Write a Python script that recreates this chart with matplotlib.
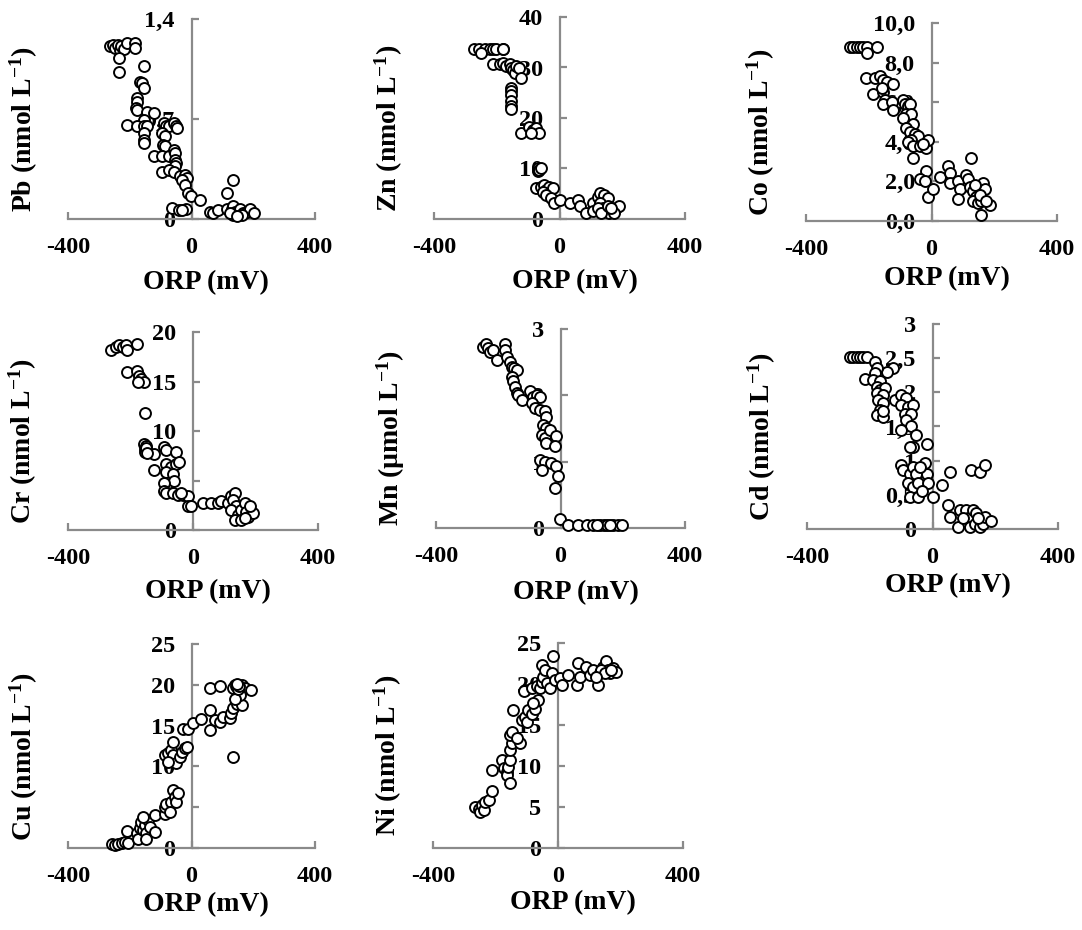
import matplotlib.pyplot as plt

# ORP (mV) and metal concentrations
pb_orp = [-265, -254, -247, -239, -233, -229, -220, -209, -182, -182,
          -236, -236, -153, -168, -161, -153, -177, -177, -179, -175,
          -144, -123, -155, -209, -177, -153, -144, -155, -153, -153,
          -88, -82, -74, -58, -50, -47, -96, -85, -91, -85,
          -123, -94, -74, -58, -53, -53, -50, -53, -94, -74,
          -58, -37, -20, -15, -31, -20, -10, -2, 28, -64,
          -42, -17, -31, 60, 71, 87, 114, 130, 136, 114,
          136, 141, 152, 157, 168, 179, 190, 201, 136, 125, 163, 147]
pb_conc = [1.21, 1.22, 1.20, 1.22, 1.18, 1.21, 1.19, 1.23, 1.23, 1.20,
           1.13, 1.03, 1.07, 0.96, 0.95, 0.92, 0.85, 0.82, 0.78, 0.76,
           0.75, 0.74, 0.69, 0.66, 0.65, 0.65, 0.65, 0.60, 0.55, 0.53,
           0.67, 0.65, 0.65, 0.67, 0.65, 0.64, 0.60, 0.58, 0.52, 0.51,
           0.44, 0.44, 0.44, 0.48, 0.46, 0.41, 0.39, 0.37, 0.33, 0.34,
           0.33, 0.30, 0.31, 0.29, 0.27, 0.24, 0.18, 0.16, 0.13, 0.08,
           0.06, 0.07, 0.06, 0.05, 0.04, 0.06, 0.07, 0.07, 0.27, 0.18,
           0.09, 0.05, 0.04, 0.07, 0.04, 0.05, 0.07, 0.04, 0.03, 0.04, 0.03, 0.02]

zn_orp = [-271, -255, -239, -223, -213, -202, -179, -250, -179, -213,
          -191, -181, -170, -159, -154, -149, -143, -138, -128, -122,
          -154, -154, -154, -154, -154, -154, -122, -96, -85, -74, -64, -90,
          -69, -69, -64, -58,
          -74, -58, -48, -42, -32, -21, -53, -42, -27, -16, 0, 32, 58, 64, 85,
          106, 122, 128, 143, 154, 128, 138, 149, 159, 170, 181, 191, 106, 122,
          133, 154, 175, 165]
zn_conc = [33.7, 33.7, 33.7, 33.7, 33.7, 33.7, 33.7, 32.9, 33.6, 30.6,
           30.6, 30.9, 30.3, 30.6, 29.9, 29.6, 28.9, 30.3, 29.9, 27.9,
           26.0, 25.3, 24.6, 23.3, 22.3, 21.7, 17.0, 18.3, 17.7, 18.0, 17.0, 17.0,
           10.0, 9.5, 9.7, 10.0,
           6.1, 6.4, 6.8, 5.8, 6.4, 6.1, 5.4, 4.8, 4.1, 3.1, 3.8, 3.1, 3.8, 2.5, 1.1,
           3.1, 4.4, 5.1, 4.8, 4.1, 3.1, 2.1, 1.5, 1.1, 1.8, 2.1, 2.5, 1.5, 2.1,
           1.1, 2.5, 1.1, 2.1]

co_orp = [-260, -249, -239, -228, -218, -207, -175, -207,
          -210, -180, -164, -154, -143, -122, -186, -154, -159, -149,
          -154, -127, -122, -90, -85, -74, -69, -80, -64, -90,
          -58, -80, -69, -53, -42, -64, -74, -58, -37, -16,
          -11, -27, -58, -16, -37, -21, -11, 5, 27, 53,
          58, 58, 85, 90, 85, 111, 117, 127, 122, 133,
          143, 133, 149, 164, 170, 159, 186, 159, 138, 154, 175]
co_conc = [8.77, 8.77, 8.77, 8.77, 8.77, 8.77, 8.8, 8.5,
           7.2, 7.2, 7.3, 7.1, 7.0, 6.9, 6.4, 6.5, 6.7, 6.1,
           5.9, 6.0, 5.6, 6.1, 5.9, 5.8, 5.9, 5.4, 5.4, 5.2,
           4.9, 4.7, 4.5, 4.4, 4.3, 4.1, 4.0, 3.8, 3.8, 3.7,
           4.1, 3.9, 3.2, 2.5, 2.1, 2.0, 1.2, 1.6, 2.2, 2.8,
           2.4, 1.9, 2.0, 1.6, 1.1, 2.3, 2.1, 3.2, 1.7, 1.5,
           1.2, 1.0, 0.9, 1.9, 1.6, 1.0, 0.8, 0.3, 1.8, 1.3, 1.0]

cr_orp = [-263, -247, -237, -225, -215, -210, -178,
          -212, -178, -172, -167, -156, -176, -154,
          -156, -154, -151, -154, -124, -92, -86, -54,
          -86, -71, -54, -44,
          -124, -86, -65, -60, -92, -92, -86, -65, -49, -33,
          -17, -17, -6, -38,
          31, 58, 79, 90, 111, 122, 133, 127, 139, 122,
          143, 154, 165, 171, 176, 192, 181, 133, 154, 165,
          -150, -152, -148]
cr_conc = [18.2, 18.5, 18.7, 18.5, 18.7, 18.2, 18.8,
           16.0, 16.1, 15.6, 15.3, 15.0, 15.0, 11.8,
           8.7, 8.2, 8.1, 7.9, 7.7, 8.4, 8.1, 7.9,
           6.7, 6.4, 6.7, 6.9,
           6.1, 5.9, 5.7, 4.9, 4.7, 3.9, 3.7, 3.7, 3.5, 3.5,
           3.4, 2.4, 2.4, 3.7,
           2.7, 2.7, 2.7, 2.9, 2.7, 3.4, 3.7, 3.0, 2.4, 2.0,
           1.5, 2.0, 2.7, 1.8, 1.3, 1.7, 2.4, 1.0, 1.0, 1.2,
           8.5, 8.3, 7.8]

mn_orp = [-248, -240, -232, -225, -216, -203, -179, -179, -173, -162,
          -157, -150, -141, -157, -152, -147, -141, -136, -125, -99,
          -88, -77, -66, -93, -82, -66, -50, -45, -56, -45,
          -61, -50, -45, -34, -13, -18, -66, -50, -29, -13,
          -7, -61, -18, -2, 25, 57, 84, 105, 126, 140,
          151, 169, 185, 196, 116, 158]
mn_conc = [2.73, 2.78, 2.71, 2.66, 2.68, 2.53, 2.78, 2.68, 2.58, 2.51,
           2.43, 2.41, 2.38, 2.28, 2.21, 2.13, 2.03, 2.01, 1.93, 2.06,
           1.98, 2.01, 1.98, 1.88, 1.81, 1.78, 1.76, 1.68, 1.56, 1.51,
           1.40, 1.35, 1.28, 1.48, 1.38, 1.23, 1.03, 1.00, 0.98, 0.93,
           0.78, 0.88, 0.60, 0.13, 0.05, 0.05, 0.05, 0.04, 0.04, 0.05,
           0.04, 0.04, 0.05, 0.04, 0.05, 0.05]

cd_orp = [-264, -253, -242, -232, -221, -210, -184, -125, -146, -178,
          -184, -216, -189, -168, -178, -168, -152, -178, -157, -173,
          -157, -168, -178, -157, -157, -120, -99, -83, -99, -78,
          -62, -88, -67, -83, -67, -51, -99, -62, -72, -19,
          -99, -94, -72, -62, -51, -24, -19, -40, -78, -62,
          -46, -14, -72, -46, -35, 2, 29, 56, 50, 56,
          82, 87, 108, 124, 151, 167, 114, 130, 140, 119,
          135, 151, 161, 167, 188, 146, 98]
cd_conc = [2.51, 2.51, 2.51, 2.51, 2.51, 2.51, 2.45, 2.35, 2.30, 2.35,
           2.28, 2.20, 2.18, 2.16, 2.08, 2.03, 2.06, 1.99, 1.96, 1.89,
           1.84, 1.74, 1.67, 1.64, 1.72, 1.89, 1.96, 1.91, 1.81, 1.79,
           1.81, 1.69, 1.69, 1.60, 1.50, 1.38, 1.45, 1.20, 1.20, 1.25,
           0.94, 0.86, 0.81, 0.91, 0.81, 0.96, 0.81, 0.91, 0.67, 0.62,
           0.67, 0.67, 0.47, 0.47, 0.55, 0.47, 0.64, 0.84, 0.35, 0.18,
           0.03, 0.28, 0.28, 0.86, 0.84, 0.94, 0.16, 0.28, 0.23, 0.03,
           0.08, 0.03, 0.08, 0.18, 0.11, 0.16, 0.16]

cu_orp = [-259, -248, -237, -226, -216, -205, -210, -178, -173, -167,
          -162, -156, -151, -146, -140, -135, -156, -119, -119, -146,
          -86, -86, -81, -65, -59, -54, -49, -43, -70, -86,
          -76, -65, -59, -49, -38, -32, -22, -16, -59, -76,
          -27, -11, 5, 32, 59, 59, 75, 92, 102, 124,
          129, 135, 146, 162, 59, 92, 135, 140, 151, 162,
          172, 194, 146, 156, 140, 151, 135, 145, 150, 155, 148]
cu_conc = [0.45, 0.33, 0.45, 0.6, 0.74, 0.6, 2.1, 1.8, 1.15, 2.4,
           3.2, 2.2, 2.8, 1.8, 3.4, 2.6, 3.8, 4.0, 2.0, 1.15,
           4.2, 5.0, 5.4, 5.6, 7.1, 6.3, 5.6, 6.7, 4.4, 11.4,
           11.6, 12.0, 11.4, 10.4, 11.2, 11.8, 12.2, 12.4, 13.0, 10.6,
           14.6, 14.6, 15.3, 15.8, 14.4, 16.9, 15.7, 15.5, 16.1, 15.9,
           16.5, 17.1, 17.7, 17.5, 19.6, 19.8, 11.2, 20.0, 19.8, 20.0,
           19.6, 19.4, 19.1, 18.7, 18.3, 19.6, 19.6, 19.9, 19.5, 19.8, 20.1]

ni_orp = [-265, -254, -249, -243, -238, -233, -222, -212, -212, -180,
          -174, -164, -164, -153, -159, -153, -153, -148, -153, -148,
          -143, -121, -132, -116, -106, -100, -95, -84, -74, -63,
          -79, -106, -110, -84, -68, -57, -52, -47, -52, -41,
          -36, -25, -20, -15, -10, 7, 12, 33, 60, 65,
          70, 91, 101, 112, 129, 134, 144, 155, 161, 166,
          176, 187, 139, 150, 171, 123]
ni_conc = [5.0, 4.8, 4.4, 5.2, 4.6, 5.6, 5.8, 6.9, 9.5, 10.7,
           9.7, 9.3, 8.9, 7.9, 9.9, 10.7, 11.9, 12.8, 13.8, 14.2,
           16.8, 12.8, 13.4, 15.6, 16.0, 15.4, 16.8, 16.4, 17.0, 18.1,
           17.7, 19.3, 19.1, 19.5, 19.7, 19.5, 20.3, 20.9, 22.3, 21.7,
           20.1, 19.5, 21.3, 23.4, 20.5, 20.7, 19.9, 21.1, 19.9, 22.6,
           20.9, 22.1, 21.1, 21.7, 19.9, 21.3, 22.1, 22.8, 21.7, 21.3,
           21.9, 21.5, 21.7, 21.3, 21.7, 20.9]

x_ticks = [-400, 0, 400]
x_ticklabels = ['-400', '0', '400']

plt.rcParams['font.family'] = ['Liberation Serif', 'DejaVu Serif']
plt.rcParams['font.weight'] = 'bold'
plt.rcParams['mathtext.fontset'] = 'custom'
plt.rcParams['mathtext.rm'] = 'Liberation Serif:bold'
plt.rcParams['mathtext.it'] = 'Liberation Serif:bold'
plt.rcParams['mathtext.bf'] = 'Liberation Serif:bold'

W, H = 1082, 930
AXIS_GREY = '#8a8a8a'

# (x, y, y label, y ticks, y tick labels, axes rect in px [left, top, width, height], xlabel y offset)
panels = [
    (pb_orp, pb_conc, 'Pb (nmol L$^{-1}$)', [0, 0.7, 1.4], ['0', '0,7', '1,4'],
     (68, 19, 247, 200), -0.255),
    (zn_orp, zn_conc, 'Zn (nmol L$^{-1}$)', [0, 10, 20, 30, 40], ['0', '10', '20', '30', '40'],
     (434, 17, 251, 202), -0.25),
    (co_orp, co_conc, 'Co (nmol L$^{-1}$)', [0, 2, 4, 6, 8, 10],
     ['0,0', '2,0', '4,0', '6,0', '8,0', '10,0'],
     (806, 23, 251, 198), -0.23),
    (cr_orp, cr_conc, 'Cr (nmol L$^{-1}$)', [0, 5, 10, 15, 20], ['0', '5', '10', '15', '20'],
     (68, 332, 250, 198), -0.25),
    (mn_orp, mn_conc, 'Mn (µmol L$^{-1}$)', [0, 1, 2, 3], ['0', '1', '2', '3'],
     (436, 329, 249, 199), -0.26),
    (cd_orp, cd_conc, 'Cd (nmol L$^{-1}$)', [0, 0.5, 1, 1.5, 2, 2.5, 3],
     ['0', '0,5', '1', '1,5', '2', '2,5', '3'],
     (807, 324, 251, 205), -0.215),
    (cu_orp, cu_conc, 'Cu (nmol L$^{-1}$)', [0, 5, 10, 15, 20, 25],
     ['0', '5', '10', '15', '20', '25'],
     (68, 644, 247, 204), -0.215),
    (ni_orp, ni_conc, 'Ni (nmol L$^{-1}$)', [0, 5, 10, 15, 20, 25],
     ['0', '5', '10', '15', '20', '25'],
     (433, 643, 250, 205), -0.205),
]

fig = plt.figure(figsize=(W / 100, H / 100), dpi=100)

for orp, conc, ylabel, yticks, yticklabels, rect, xlab_y in panels:
    left, top, width, height = rect
    ax = fig.add_axes([left / W, 1 - (top + height) / H, width / W, height / H])

    ax.scatter(orp, conc, s=62, facecolors='white', edgecolors='black',
               linewidths=1.4, zorder=3, clip_on=False)

    ax.set_xlim(-400, 400)
    ax.set_ylim(yticks[0], yticks[-1])

    ax.spines['top'].set_visible(False)
    ax.spines['right'].set_visible(False)
    ax.spines['left'].set_position(('data', 0))
    for side in ['left', 'bottom']:
        ax.spines[side].set_color(AXIS_GREY)
        ax.spines[side].set_linewidth(1.6)

    ax.set_xticks(x_ticks)
    ax.set_xticklabels(x_ticklabels)
    ax.set_yticks(yticks)
    ax.set_yticklabels(yticklabels)
    ax.tick_params(axis='x', direction='in', length=5, width=1.6, color=AXIS_GREY,
                   labelsize=17.5, pad=13)
    ax.tick_params(axis='y', direction='in', length=5, width=1.6, color=AXIS_GREY,
                   labelsize=17.5, pad=12)
    for lab in ax.get_xticklabels() + ax.get_yticklabels():
        lab.set_fontweight('bold')

    ax.set_xlabel('ORP (mV)', fontsize=20, fontweight='bold', va='top')
    ax.xaxis.set_label_coords(0.56, xlab_y)
    ax.set_ylabel(ylabel, fontsize=20, fontweight='bold')
    ax.yaxis.set_label_coords(-0.115, 0.45)
    ax.patch.set_alpha(0)

fig.savefig('out.png', dpi=100)
